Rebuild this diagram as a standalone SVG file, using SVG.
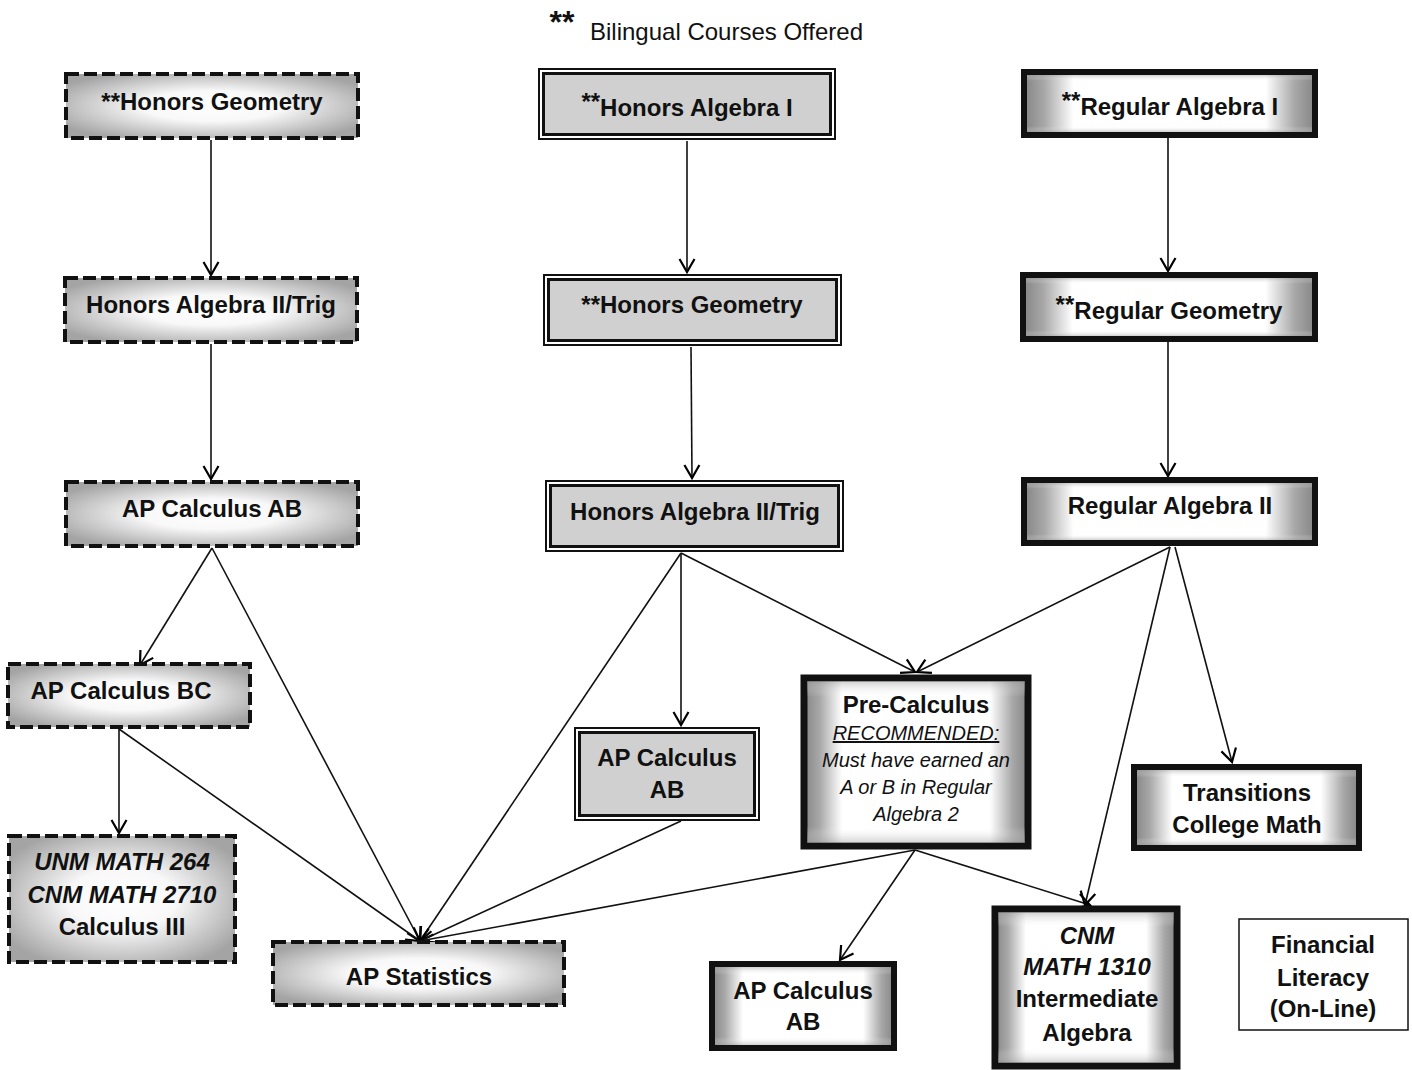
<svg xmlns="http://www.w3.org/2000/svg" width="1412" height="1070" viewBox="0 0 1412 1070">
<defs>
<radialGradient id="rg" cx="50%" cy="50%" r="60%">
<stop offset="0" stop-color="#ffffff"/>
<stop offset="0.4" stop-color="#f8f8f8"/>
<stop offset="1" stop-color="#a4a4a4"/>
</radialGradient>
<linearGradient id="hg" x1="0" y1="0" x2="1" y2="0">
<stop offset="0" stop-color="#858585"/>
<stop offset="0.07" stop-color="#a8a8a8"/>
<stop offset="0.17" stop-color="#ffffff"/>
<stop offset="0.83" stop-color="#ffffff"/>
<stop offset="0.93" stop-color="#a8a8a8"/>
<stop offset="1" stop-color="#858585"/>
</linearGradient>
<linearGradient id="vg" x1="0" y1="0" x2="0" y2="1">
<stop offset="0" stop-color="#a0a0a0" stop-opacity="0.5"/>
<stop offset="0.1" stop-color="#ffffff" stop-opacity="0"/>
<stop offset="0.9" stop-color="#ffffff" stop-opacity="0"/>
<stop offset="1" stop-color="#a0a0a0" stop-opacity="0.5"/>
</linearGradient>
<marker id="ah" markerWidth="18" markerHeight="18" refX="14" refY="9" orient="auto" markerUnits="userSpaceOnUse">
<path d="M1,1.5 L14,9 L1,16.5" fill="none" stroke="#000" stroke-width="2.2"/>
</marker>
<style>
.dash{fill:url(#rg);stroke:#111;stroke-width:4;stroke-dasharray:13 5}
.dout{fill:#fff;stroke:#111;stroke-width:2}
.din{fill:#d0d0d0;stroke:#111;stroke-width:3}
.thk{fill:url(#hg);stroke:#111;stroke-width:6}
.thkv{fill:url(#vg);stroke:none}
.thin{fill:#fff;stroke:#111;stroke-width:1.5}
text{font-family:"Liberation Sans",Arial,sans-serif;fill:#111;text-anchor:middle}
.b{font-weight:bold;font-size:24px}
.bi{font-weight:bold;font-style:italic;font-size:24px}
.it{font-style:italic;font-size:20px}
.sup{font-size:24px}
.conn line{stroke:#111;stroke-width:1.6;marker-end:url(#ah)}
</style>
</defs>
<rect width="1412" height="1070" fill="#fff"/>

<g id="legend">
<text x="562" y="33" style="font-weight:bold;font-size:32px">**</text>
<text x="590" y="40" style="font-size:24px;text-anchor:start">Bilingual Courses Offered</text>
</g>

<g class="conn">
<line x1="211" y1="140" x2="211" y2="275"/>
<line x1="211" y1="344" x2="211" y2="479"/>
<line x1="212" y1="548" x2="140" y2="665"/>
<line x1="212" y1="548" x2="420" y2="941"/>
<line x1="119" y1="729" x2="119" y2="833"/>
<line x1="119" y1="729" x2="420" y2="941"/>
<line x1="687" y1="141" x2="687" y2="272"/>
<line x1="691" y1="347" x2="692" y2="478"/>
<line x1="681" y1="553" x2="681" y2="725"/>
<line x1="681" y1="553" x2="420" y2="941"/>
<line x1="681" y1="553" x2="915" y2="672"/>
<line x1="681" y1="821" x2="420" y2="941"/>
<line x1="915" y1="850" x2="420" y2="941"/>
<line x1="915" y1="850" x2="840" y2="960"/>
<line x1="915" y1="850" x2="1090" y2="905"/>
<line x1="1168" y1="138" x2="1168" y2="271"/>
<line x1="1168" y1="342" x2="1168" y2="476"/>
<line x1="1170" y1="547" x2="917" y2="672"/>
<line x1="1170" y1="547" x2="1085" y2="905"/>
<line x1="1175" y1="547" x2="1232" y2="762"/>
</g>

<g id="hon-geom-l">
<rect class="dash" x="66" y="74" width="292" height="64"/>
<text class="b" x="212" y="110">**Honors Geometry</text>
</g>
<g id="hon-alg2-l">
<rect class="dash" x="65" y="278" width="292" height="64"/>
<text class="b" x="211" y="313">Honors Algebra II/Trig</text>
</g>
<g id="apcalcab-l">
<rect class="dash" x="66" y="482" width="292" height="64"/>
<text class="b" x="212" y="517">AP Calculus AB</text>
</g>
<g id="apcalcbc">
<rect class="dash" x="8" y="664" width="242" height="63"/>
<text class="b" x="121" y="699">AP Calculus BC</text>
</g>
<g id="unm264">
<rect class="dash" x="9" y="836" width="226" height="126"/>
<text class="bi" x="122" y="870">UNM MATH 264</text>
<text class="bi" x="122" y="903">CNM MATH 2710</text>
<text class="b" x="122" y="935">Calculus III</text>
</g>
<g id="apstats">
<rect class="dash" x="273" y="942" width="291" height="63"/>
<text class="b" x="419" y="985">AP Statistics</text>
</g>

<g id="hon-alg1-m">
<rect class="dout" x="539" y="69" width="296" height="70"/>
<rect class="din" x="543.5" y="73.5" width="287" height="61"/>
<text class="b" x="687" y="116"><tspan class="sup" dy="-6">**</tspan><tspan dy="6">Honors Algebra I</tspan></text>
</g>
<g id="hon-geom-m">
<rect class="dout" x="544" y="275" width="297" height="70"/>
<rect class="din" x="548.5" y="279.5" width="288" height="61"/>
<text class="b" x="692" y="313">**Honors Geometry</text>
</g>
<g id="hon-alg2-m">
<rect class="dout" x="546" y="481" width="297" height="70"/>
<rect class="din" x="550.5" y="485.5" width="288" height="61"/>
<text class="b" x="695" y="520">Honors Algebra II/Trig</text>
</g>
<g id="apcalcab-m">
<rect class="dout" x="575" y="728" width="184" height="92"/>
<rect class="din" x="579.5" y="732.5" width="175" height="83"/>
<text class="b" x="667" y="766">AP Calculus</text>
<text class="b" x="667" y="798">AB</text>
</g>

<g id="reg-alg1">
<rect class="thk" x="1024" y="72" width="291" height="63"/>
<rect class="thkv" x="1027" y="75" width="285" height="57"/>
<text class="b" x="1170" y="115"><tspan class="sup" dy="-6">**</tspan><tspan dy="6">Regular Algebra I</tspan></text>
</g>
<g id="reg-geom">
<rect class="thk" x="1023" y="275" width="292" height="64"/>
<rect class="thkv" x="1026" y="278" width="286" height="58"/>
<text class="b" x="1169" y="319"><tspan class="sup" dy="-6">**</tspan><tspan dy="6">Regular Geometry</tspan></text>
</g>
<g id="reg-alg2">
<rect class="thk" x="1024" y="480" width="291" height="63"/>
<rect class="thkv" x="1027" y="483" width="285" height="57"/>
<text class="b" x="1170" y="514">Regular Algebra II</text>
</g>
<g id="precalc">
<rect class="thk" x="804" y="678" width="224" height="168" style="stroke-width:7"/>
<rect class="thkv" x="807" y="681" width="218" height="162"/>
<text class="b" x="916" y="713">Pre-Calculus</text>
<text class="it" x="916" y="740" text-decoration="underline">RECOMMENDED:</text>
<text class="it" x="916" y="767">Must have earned an</text>
<text class="it" x="916" y="794">A or B in Regular</text>
<text class="it" x="916" y="821">Algebra 2</text>
</g>
<g id="transitions">
<rect class="thk" x="1134" y="767" width="225" height="81"/>
<rect class="thkv" x="1137" y="770" width="219" height="75"/>
<text class="b" x="1247" y="801">Transitions</text>
<text class="b" x="1247" y="833">College Math</text>
</g>
<g id="apcalcab-r">
<rect class="thk" x="712" y="964" width="182" height="84"/>
<rect class="thkv" x="715" y="967" width="176" height="78"/>
<text class="b" x="803" y="999">AP Calculus</text>
<text class="b" x="803" y="1030">AB</text>
</g>
<g id="cnm1310">
<rect class="thk" x="995" y="909" width="182" height="157" style="stroke-width:7"/>
<rect class="thkv" x="998" y="912" width="176" height="151"/>
<text class="bi" x="1087" y="944">CNM</text>
<text class="bi" x="1087" y="975">MATH 1310</text>
<text class="b" x="1087" y="1007">Intermediate</text>
<text class="b" x="1087" y="1041">Algebra</text>
</g>
<g id="finlit">
<rect class="thin" x="1239" y="919" width="169" height="111"/>
<text class="b" x="1323" y="953">Financial</text>
<text class="b" x="1323" y="986">Literacy</text>
<text class="b" x="1323" y="1017">(On-Line)</text>
</g>
</svg>
